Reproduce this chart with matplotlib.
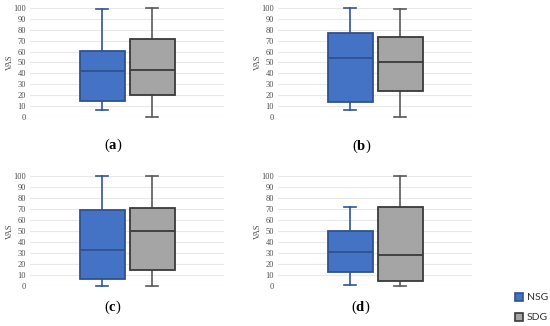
import numpy as np
import matplotlib.pyplot as plt

# five-number summaries: min, q1, median, q3, max
panels = ['a', 'b', 'c', 'd']
nsg_min = [6, 6, 0, 1]
nsg_q1 = [15, 14, 6, 13]
nsg_med = [42, 54, 33, 31]
nsg_q3 = [61, 77, 69, 50]
nsg_max = [99, 100, 100, 72]
sdg_min = [0, 0, 0, 0]
sdg_q1 = [20, 24, 15, 5]
sdg_med = [43, 50, 50, 28]
sdg_q3 = [72, 73, 71, 72]
sdg_max = [100, 99, 100, 100]
groups = ['NSG', 'SDG']
yticks = np.arange(0, 101, 10)

serif = 'Liberation Serif'
plt.rcParams['mathtext.fontset'] = 'custom'
plt.rcParams['mathtext.rm'] = serif
plt.rcParams['mathtext.bf'] = serif + ':bold'

W, H = 550, 326
fig = plt.figure(figsize=(5.5, 3.26), dpi=100)

# axes boxes in pixels: left, top(y of 100), bottom(y of 0)
boxes = [(30, 8, 117), (278, 8, 117), (30, 176, 286), (278, 176, 286)]
label_pos = [(113, 145), (362, 146), (113, 307), (361, 307)]

fills = ['#4472C4', '#A5A5A5']
edges = ['#2F528F', '#3A3A3A']
whisk = ['#2F5597', '#595959']

for i, (l, t, b) in enumerate(boxes):
    ax = fig.add_axes([l / W, 1 - b / H, 194 / W, (b - t) / H])
    stats = [
        dict(whislo=nsg_min[i], q1=nsg_q1[i], med=nsg_med[i], q3=nsg_q3[i], whishi=nsg_max[i], label=groups[0]),
        dict(whislo=sdg_min[i], q1=sdg_q1[i], med=sdg_med[i], q3=sdg_q3[i], whishi=sdg_max[i], label=groups[1]),
    ]
    for j in range(2):
        bp = ax.bxp([stats[j]], positions=[j + 1], widths=0.9, patch_artist=True,
                    showfliers=False, capwidths=0.24)
        for p in bp['boxes']:
            p.set(facecolor=fills[j], edgecolor=edges[j], linewidth=1.3, clip_on=False, zorder=3)
        for ln in bp['medians']:
            ln.set(color=edges[j], linewidth=1.3, clip_on=False, zorder=4)
        for ln in bp['whiskers'] + bp['caps']:
            ln.set(color=whisk[j], linewidth=1.2, clip_on=False, zorder=2)
    ax.set_xlim(-0.44, 3.44)
    ax.set_ylim(0, 100)
    ax.set_yticks(yticks)
    ax.set_xticks([])
    ax.yaxis.grid(True, color='#E8E8E8', linewidth=0.8)
    ax.set_axisbelow(True)
    for s in ax.spines.values():
        s.set_visible(False)
    ax.tick_params(axis='y', length=0, pad=3, labelsize=6, labelcolor='#4D4D4D')
    for tl in ax.get_yticklabels():
        tl.set_family(serif)
    ax.text(-0.103, 0.5, 'VAS', rotation=90, transform=ax.transAxes, ha='center', va='center',
            fontsize=6, color='#4D4D4D', family=serif)
    x, y = label_pos[i]
    fig.text(x / W, 1 - y / H, '($\\mathbf{%s}$)' % panels[i], ha='center', va='center',
             fontsize=10.5, family=serif)

# legend
for k, (name, yy) in enumerate([('NSG', 297), ('SDG', 317)]):
    fig.patches.append(plt.Rectangle((515 / W, 1 - (yy + 4) / H), 8 / W, 8 / H,
                                     transform=fig.transFigure, facecolor=fills[k],
                                     edgecolor=edges[k], linewidth=1.2))
    fig.text(527 / W, 1 - yy / H, name, ha='left', va='center', fontsize=7.5, family='Lato',
             color='#333333')

fig.savefig('out.png', dpi=100)
